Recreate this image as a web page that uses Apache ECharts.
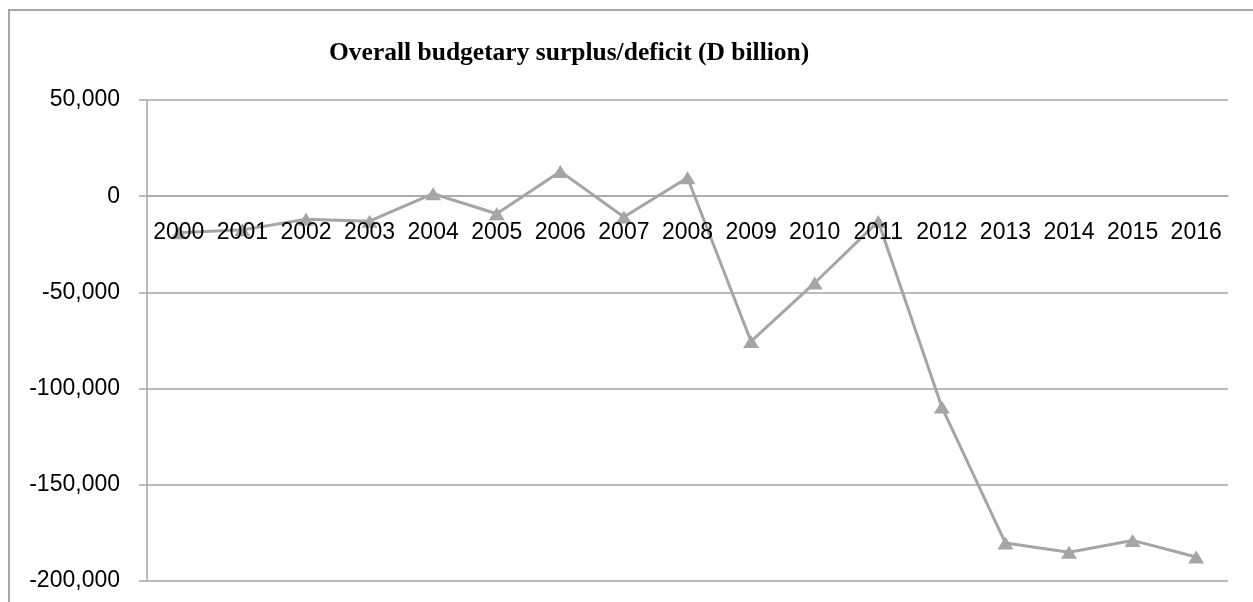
<!doctype html>
<meta charset="utf-8">
<style>
  html, body { margin: 0; padding: 0; width: 100%; height: 100%; background: #fff; }
  #chart { width: 1253px; height: 602px; }
</style>
<script src="https://cdn.jsdelivr.net/npm/echarts@6/dist/echarts.min.js"></script>

<div id="chart"></div>

<script>
  const years = ['2000', '2001', '2002', '2003', '2004', '2005', '2006', '2007', '2008',
                 '2009', '2010', '2011', '2012', '2013', '2014', '2015', '2016'];
  const balance = [-19000, -17500, -12000, -13000, 1300, -9100, 12900, -10800, 9600,
                   -75500, -45100, -13100, -109600, -180300, -185100, -178900, -187500];
  const yTicks = { min: -200000, max: 50000, step: 50000 };

  const GRAY = '#a5a5a5';
  const LINE = '#a6a6a6';
  const GRID = { left: 147, right: 25, top: 100, bottom: 21 };
  const plotH = 602 - GRID.top - GRID.bottom;
  // the category axis sits on the zero line, like Excel does
  const zeroOffset = -plotH * (0 - yTicks.min) / (yTicks.max - yTicks.min);

  let chart = echarts.init(document.getElementById('chart'));

  chart.setOption({
    animation: false,
    title: {
      text: 'Overall budgetary surplus/deficit (D billion)',
      left: 324,
      top: 35,
      textStyle: {
        fontFamily: 'Liberation Serif',
        fontWeight: 'bold',
        fontSize: 25.5,
        color: '#000'
      }
    },
    graphic: [{
      type: 'rect',
      shape: { x: 9, y: 10, width: 1400, height: 800 },
      style: { fill: 'none', stroke: LINE, lineWidth: 2 },
      silent: true
    }],
    grid: {
      left: GRID.left,
      right: GRID.right,
      top: GRID.top,
      bottom: GRID.bottom,
      containLabel: false,
      outerBoundsMode: 'none'
    },
    xAxis: {
      type: 'category',
      data: years,
      boundaryGap: true,
      offset: zeroOffset,
      z: 5,
      axisLine: { onZero: false, lineStyle: { color: LINE, width: 1.5 } },
      axisTick: { length: 7, lineStyle: { color: LINE, width: 1.5 } },
      axisLabel: {
        show: true,
        hideOverlap: false,
        interval: 0,
        margin: 25,
        fontFamily: 'Liberation Sans',
        fontSize: 23,
        color: '#000'
      },
      splitLine: { show: false }
    },
    yAxis: {
      type: 'value',
      min: yTicks.min,
      max: yTicks.max,
      interval: yTicks.step,
      axisLine: { show: true, lineStyle: { color: LINE, width: 1.5 } },
      axisTick: { show: true, length: 8, lineStyle: { color: LINE, width: 1.5 } },
      axisLabel: {
        margin: 27,
        fontFamily: 'Liberation Sans',
        fontSize: 23,
        color: '#000',
        formatter: v => v.toLocaleString('en-US')
      },
      splitLine: { lineStyle: { color: LINE, width: 1.5 } }
    },
    series: [{
      type: 'line',
      data: balance,
      symbol: 'triangle',
      symbolSize: [16, 13],
      showSymbol: true,
      lineStyle: { color: GRAY, width: 3 },
      itemStyle: { color: GRAY }
    }]
  });
</script>
